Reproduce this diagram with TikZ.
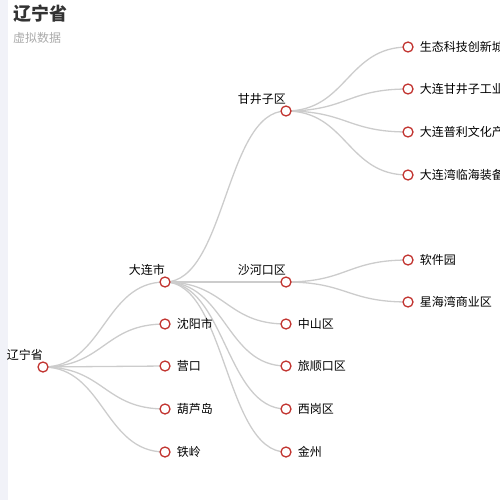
\documentclass[tikz,border=0pt]{standalone}
\usepackage{fontspec}
\setmainfont{Noto Sans CJK SC}
\usetikzlibrary{calc,backgrounds}
\definecolor{nodered}{HTML}{C23531}
\definecolor{edgegray}{HTML}{CCCCCC}
\definecolor{strip}{HTML}{F1F2F8}
\definecolor{titlec}{HTML}{333333}
\definecolor{subc}{HTML}{AAAAAA}
\tikzset{
  tnode/.style={circle, draw=nodered, fill=white, line width=1.3pt, minimum size=10pt, inner sep=0pt},
  leaflab/.style={font=\fontsize{12}{12}\selectfont, text=black, inner sep=0pt, label distance=6pt},
  inlab/.style={anchor=south east, font=\fontsize{12}{12}\selectfont, text=black, inner sep=0pt, yshift=1pt},
  edge/.style={draw=edgegray, line width=1.3pt}
}
\newcommand{\treeedge}[2]{\draw[edge] let \p1=(#1.center), \p2=(#2.center) in (\p1) .. controls ({(\x1+\x2)/2},\y1) and ({(\x1+\x2)/2},\y2) .. (\p2);}
\begin{document}
\begin{tikzpicture}[x=1pt,y=-1pt]
\useasboundingbox (0,0) rectangle (500,500);
\fill[strip] (0,0) rectangle (8,500);
\node[anchor=north west, inner sep=0pt, font=\fontsize{18}{18}\selectfont\bfseries, text=titlec] (title) at (13,5) {辽宁省};
\node[anchor=north west, inner sep=0pt, font=\fontsize{12}{12}\selectfont, text=subc] (sub) at (13,32) {虚拟数据};
% level 0
\node[tnode, label={[inlab]north:辽宁省}] (ln) at (43,367) {};
% level 1
\node[tnode, label={[inlab]north:大连市}] (dl) at (165,282) {};
\node[tnode, label={[leaflab]right:沈阳市}] (sy) at (165,324) {};
\node[tnode, label={[leaflab]right:营口}] (yk) at (165,366) {};
\node[tnode, label={[leaflab]right:葫芦岛}] (hld) at (165,409) {};
\node[tnode, label={[leaflab]right:铁岭}] (tl) at (165,452) {};
% level 2
\node[tnode, label={[inlab]north:甘井子区}] (gjz) at (286,111) {};
\node[tnode, label={[inlab]north:沙河口区}] (shk) at (286,282) {};
\node[tnode, label={[leaflab]right:中山区}] (zs) at (286,324) {};
\node[tnode, label={[leaflab]right:旅顺口区}] (lsk) at (286,366) {};
\node[tnode, label={[leaflab]right:西岗区}] (xg) at (286,409) {};
\node[tnode, label={[leaflab]right:金州}] (jz) at (286,452) {};
% level 3
\node[tnode, label={[leaflab]right:生态科技创新城}] (st) at (408,47) {};
\node[tnode, label={[leaflab]right:大连甘井子工业}] (gy) at (408,89) {};
\node[tnode, label={[leaflab]right:大连普利文化产}] (pl) at (408,132) {};
\node[tnode, label={[leaflab]right:大连湾临海装备}] (lh) at (408,175) {};
\node[tnode, label={[leaflab]right:软件园}] (rj) at (408,260) {};
\node[tnode, label={[leaflab]right:星海湾商业区}] (xh) at (408,302) {};
\begin{scope}[on background layer]
\treeedge{ln}{dl}
\treeedge{ln}{sy}
\treeedge{ln}{yk}
\treeedge{ln}{hld}
\treeedge{ln}{tl}
\treeedge{dl}{gjz}
\treeedge{dl}{shk}
\treeedge{dl}{zs}
\treeedge{dl}{lsk}
\treeedge{dl}{xg}
\treeedge{dl}{jz}
\treeedge{gjz}{st}
\treeedge{gjz}{gy}
\treeedge{gjz}{pl}
\treeedge{gjz}{lh}
\treeedge{shk}{rj}
\treeedge{shk}{xh}
\end{scope}
\end{tikzpicture}
\end{document}
